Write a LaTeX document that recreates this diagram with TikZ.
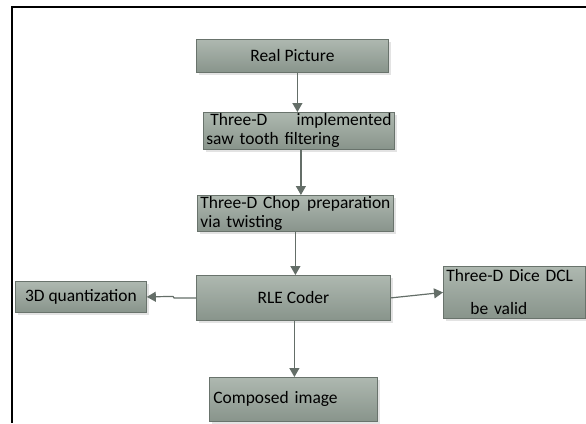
\documentclass[tikz,border=0pt]{standalone}
\usepackage{fontspec}
\setmainfont{Carlito}
\usetikzlibrary{shadows,arrows.meta}
\definecolor{boxtop}{RGB}{174,184,176}
\definecolor{boxbot}{RGB}{136,148,139}
\definecolor{boxedge}{RGB}{105,115,108}
\definecolor{arrcol}{RGB}{100,110,104}
\tikzset{
  box/.style={draw=boxedge, line width=0.8bp, top color=boxtop, bottom color=boxbot,
    drop shadow={shadow xshift=3bp, shadow yshift=-3bp, fill=black!22},
    inner ysep=0pt, inner xsep=3bp, anchor=north west, text=black,
    font=\fontsize{17.5}{19}\selectfont},
  arr/.style={draw=arrcol, line width=1.2bp, -{Triangle[length=9bp,width=10bp]}},
  frame/.style={line width=2bp, draw=black}
}
\begin{document}
\begin{tikzpicture}[x=1bp,y=1bp]
\useasboundingbox (0,0) rectangle (586,-423);
\draw[frame] (586,-7) -- (12,-7) -- (12,-423);

\node[box, minimum width=192bp, minimum height=33bp] (rp) at (196,-39) {Real Picture};
\node[box, minimum width=189bp, minimum height=37bp, text width=185bp, align=left] (b2) at (203,-112)
  {\hspace*{4bp}Three-D\hfill implemented\\saw tooth filtering};
\node[box, minimum width=195bp, minimum height=36bp, text width=190bp, align=left] (b3) at (197,-195)
  {Three-D Chop\hfill preparation\\via twisting};
\node[box, minimum width=194bp, minimum height=45bp] (rle) at (196,-275) {RLE Coder};
\node[box, minimum width=131bp, minimum height=31bp] (q) at (15,-281) {3D quantization};
\node[box, minimum width=142bp, minimum height=52bp, text width=136bp, align=left] (dice) at (443,-266)
  {Three-D Dice DCL\\[14bp]\hspace*{24bp}be valid};
\node[box, minimum width=168bp, minimum height=44bp, text width=160bp, align=left] (ci) at (209,-377)
  {Composed image};

\draw[arr] (rp.south) ++(5,0) coordinate (a1) -- (a1 |- b2.north);
\draw[arr] (b2.south) ++(2,0) coordinate (a2) -- (a2 |- b3.north);
\draw[arr] (b3.south) ++(0,0) coordinate (a3) -- (a3 |- rle.north);
\draw[arr] (rle.west) -- ++(-22,0) -- ++(-1,1.5) -- (q.east);
\draw[arr] (rle.east) -- (dice.west);
\draw[arr] (rle.south) ++(1,0) coordinate (a4) -- (a4 |- ci.north);
\end{tikzpicture}
\end{document}
